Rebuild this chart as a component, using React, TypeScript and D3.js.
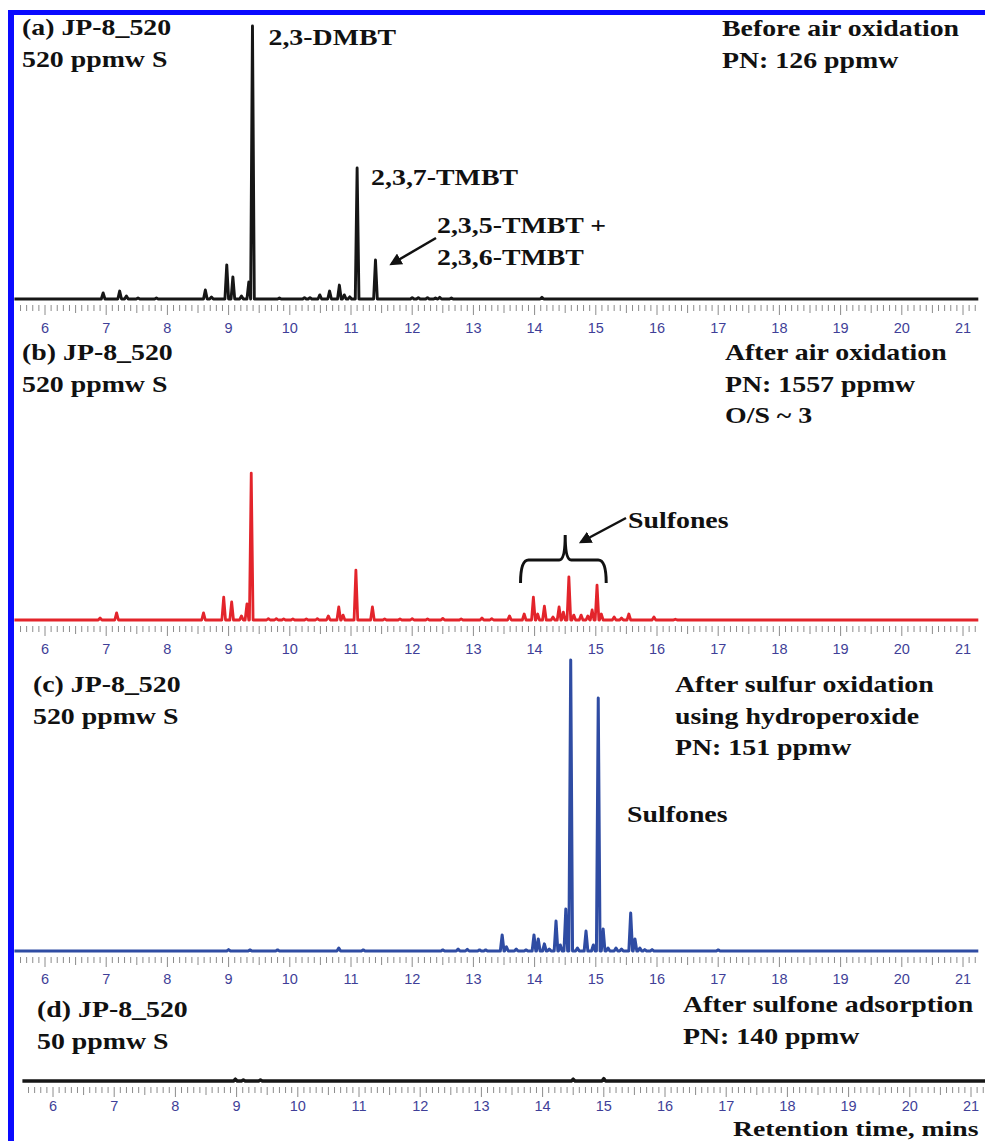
import React, { useEffect, useRef } from 'react';
import * as d3 from 'd3';

// Peaks: [retention time (min), relative height]
// heights are relative to the 2,3-DMBT peak in (a) = 100
const peaksA = [
  [6.95, 2.2], [7.22, 2.9], [7.33, 1.1], [7.52, 0.4], [7.82, 0.4],
  [8.62, 3.3], [8.72, 0.7], [8.97, 12.5], [9.07, 8.1], [9.21, 1.1],
  [9.33, 6.2], [9.39, 100], [9.83, 0.4], [10.24, 0.5], [10.33, 0.5],
  [10.49, 1.5], [10.65, 2.9], [10.81, 5.1], [10.89, 1.5], [10.98, 0.8],
  [11.1, 48], [11.4, 14.3], [12.0, 0.5], [12.1, 0.5], [12.25, 0.5],
  [12.38, 0.4], [12.45, 0.6], [12.64, 0.4], [14.12, 0.6],
];

const peaksB = [
  [6.9, 0.7], [7.17, 2.6], [8.59, 2.6], [8.92, 8.4], [9.05, 6.6],
  [9.21, 1.5], [9.3, 5.9], [9.37, 53.8], [9.65, 0.5], [9.78, 0.5],
  [9.9, 0.4], [10.05, 0.4], [10.27, 0.4], [10.45, 0.5], [10.63, 1.5],
  [10.8, 4.8], [10.87, 1.8], [11.08, 18.3], [11.35, 4.8], [11.55, 0.4],
  [11.8, 0.4], [12.0, 0.5], [12.25, 0.4], [12.5, 0.6], [12.8, 0.4],
  [13.14, 0.7], [13.3, 0.5], [13.59, 1.5], [13.83, 2.2], [13.98, 8.4],
  [14.05, 2.2], [14.16, 5.1], [14.3, 1.1], [14.4, 4.8], [14.47, 2.9],
  [14.56, 15.8], [14.64, 1.8], [14.76, 1.8], [14.87, 1.5], [14.94, 3.7],
  [15.02, 12.8], [15.09, 2.2], [15.3, 1.1], [15.42, 0.7], [15.54, 2.2],
  [15.95, 1.1], [16.3, 0.3],
];

const peaksC = [
  [9.0, 0.5], [9.35, 0.4], [9.8, 0.4], [10.8, 1.1], [11.2, 0.4],
  [12.5, 0.4], [12.75, 0.7], [12.9, 0.6], [13.1, 0.4], [13.2, 0.4],
  [13.47, 5.9], [13.54, 1.5], [13.7, 0.7], [13.86, 0.4], [13.99, 5.9],
  [14.06, 4.4], [14.16, 2.6], [14.24, 0.7], [14.35, 11],
  [14.42, 2.2], [14.51, 15.4], [14.59, 106.6], [14.7, 1.1], [14.84, 7.3],
  [14.96, 2.2], [15.04, 92.7], [15.12, 8.1], [15.2, 1.1],
  [15.33, 1.1], [15.42, 0.7], [15.57, 13.9], [15.64, 4.4], [15.72, 1.1],
  [15.8, 0.5], [15.92, 0.5], [17.0, 0.4],
];

const peaksD = [
  [8.98, 0.7], [9.11, 0.4], [9.39, 0.4], [14.5, 0.7], [15.0, 0.9],
];

const tickLabels = [6, 7, 8, 9, 10, 11, 12, 13, 14, 15, 16, 17, 18, 19, 20, 21];

const sampleA = ['(a) JP-8_520', '520 ppmw S'];
const sampleB = ['(b) JP-8_520', '520 ppmw S'];
const sampleC = ['(c) JP-8_520', '520 ppmw S'];
const sampleD = ['(d) JP-8_520', '50 ppmw S'];
const stateA = ['Before air oxidation', 'PN: 126 ppmw'];
const stateB = ['After air oxidation', 'PN: 1557 ppmw', 'O/S ~ 3'];
const stateC = ['After sulfur oxidation', 'using hydroperoxide', 'PN: 151 ppmw'];
const stateD = ['After sulfone adsorption', 'PN: 140 ppmw'];

const W = 985;
const H = 1141;
const SERIF = '"Liberation Serif", "Times New Roman", serif';
const SANS = '"Liberation Sans", Arial, sans-serif';
const STRETCH = 1.16;
const HW = 0.03; // half width of a drawn peak, min

const panels = [
  { peaks: peaksA, color: '#161616', width: 2.9, base: 299, x6: 45, lab: 34, sample: sampleA, sx: 22, sy: 35, state: stateA, tx: 722, ty: 36 },
  { peaks: peaksB, color: '#e3242b', width: 2.8, base: 620, x6: 45, lab: 34, sample: sampleB, sx: 22, sy: 360, state: stateB, tx: 725, ty: 360 },
  { peaks: peaksC, color: '#2f4ca3', width: 3, base: 951, x6: 45, lab: 33, sample: sampleC, sx: 33, sy: 692, state: stateC, tx: 675, ty: 692 },
  { peaks: peaksD, color: '#161616', width: 3.3, base: 1081, x6: 53, lab: 30, sample: sampleD, sx: 37, sy: 1017, state: stateD, tx: 683, ty: 1012 },
];

export default function App() {
  const svgRef = useRef<SVGSVGElement>(null);

  useEffect(() => {
    document.body.style.margin = '0';
    const svg = d3.select(svgRef.current);
    svg.selectAll('*').remove();

    const y = d3.scaleLinear().domain([0, 100]).range([0, 273]);

    const addText = (g, lines, x0, y0, step = 31.5, size = 24, stretch = STRETCH) => {
      lines.forEach((t, i) => {
        g.append('text')
          .attr('transform', `translate(${x0},${y0 + i * step}) scale(${stretch},1)`)
          .attr('font-family', SERIF)
          .attr('font-weight', 'bold')
          .attr('font-size', size)
          .attr('fill', '#111')
          .text(t);
      });
    };

    const xs = [];

    panels.forEach((p) => {
      const x = d3.scaleLinear().domain([6, 21]).range([p.x6, p.x6 + 15 * 61.2]);
      xs.push(x);
      const g = svg.append('g');

      // axis ticks
      const ticks = d3.range(56, 213).map(i => i / 10);
      g.append('g').selectAll('line')
        .data(ticks)
        .enter()
        .append('line')
        .attr('x1', d => x(d))
        .attr('x2', d => x(d))
        .attr('y1', p.base + 6)
        .attr('y2', d => {
          const k = Math.round(d * 10);
          return p.base + 6 + (k % 10 === 0 ? 10 : k % 5 === 0 ? 8 : 6);
        })
        .attr('stroke', '#8c8c8c')
        .attr('stroke-width', 1);

      g.append('g').selectAll('text')
        .data(tickLabels)
        .enter()
        .append('text')
        .attr('x', d => x(d))
        .attr('y', p.base + p.lab)
        .attr('text-anchor', 'middle')
        .attr('font-family', SANS)
        .attr('font-size', 14.5)
        .attr('fill', '#3f3f98')
        .text(d => d);

      // trace
      const pts = [[5.5, 0]];
      [...p.peaks].sort((a, b) => a[0] - b[0]).forEach(([t, h]) => {
        pts.push([t - HW, 0], [t, h], [t + HW, 0]);
      });
      pts.push([21.25, 0]);

      const line = d3.line()
        .x(d => x(d[0]))
        .y(d => p.base - y(d[1]));

      g.append('path')
        .attr('d', line(pts))
        .attr('fill', 'none')
        .attr('stroke', p.color)
        .attr('stroke-width', p.width)
        .attr('stroke-linejoin', 'round');

      addText(g, p.sample, p.sx, p.sy);
      addText(g, p.state, p.tx, p.ty);
    });

    // annotations
    const [xa, xb] = xs;
    addText(svg, ['2,3-DMBT'], xa(9.39) + 16, 45);
    addText(svg, ['2,3,7-TMBT'], xa(11.1) + 14, 185);
    addText(svg, ['2,3,5-TMBT +', '2,3,6-TMBT'], 437, 233, 32);
    addText(svg, ['Sulfones'], 628, 528);
    addText(svg, ['Sulfones'], 627, 822);

    svg.append('defs').append('marker')
      .attr('id', 'arrow')
      .attr('viewBox', '0 0 10 10')
      .attr('refX', 8)
      .attr('refY', 5)
      .attr('markerWidth', 5)
      .attr('markerHeight', 5)
      .attr('orient', 'auto')
      .append('path')
      .attr('d', 'M0,0 L10,5 L0,10 Z')
      .attr('fill', '#111');

    svg.append('line')
      .attr('x1', 436).attr('y1', 238)
      .attr('x2', xa(11.4) + 16).attr('y2', 264)
      .attr('stroke', '#111').attr('stroke-width', 2.5)
      .attr('marker-end', 'url(#arrow)');

    svg.append('line')
      .attr('x1', 626).attr('y1', 518)
      .attr('x2', xb(14.4) + 22).attr('y2', 542)
      .attr('stroke', '#111').attr('stroke-width', 2.5)
      .attr('marker-end', 'url(#arrow)');

    // bracket over the sulfone peaks in (b)
    const l = xb(13.77), r = xb(15.17), c = xb(14.5);
    const yb = 560, ye = 583, yt = 535;
    svg.append('path')
      .attr('d', `M${l},${ye} Q${l},${yb} ${l + 8},${yb} L${c - 6},${yb} Q${c},${yb} ${c},${yt} Q${c},${yb} ${c + 6},${yb} L${r - 8},${yb} Q${r},${yb} ${r},${ye}`)
      .attr('fill', 'none')
      .attr('stroke', '#111')
      .attr('stroke-width', 3);

    // x axis title
    addText(svg, ['Retention time, mins'], 733, 1136, 0, 22, 1.26);

    // blue frame
    svg.append('rect').attr('x', 8).attr('y', 10).attr('width', W - 8).attr('height', 5).attr('fill', '#0a0aff');
    svg.append('rect').attr('x', 8).attr('y', 10).attr('width', 6).attr('height', H - 10).attr('fill', '#0a0aff');
  }, []);

  return (
    <svg ref={svgRef} width={W} height={H} style={{ display: 'block', background: '#fff' }}></svg>
  );
}
